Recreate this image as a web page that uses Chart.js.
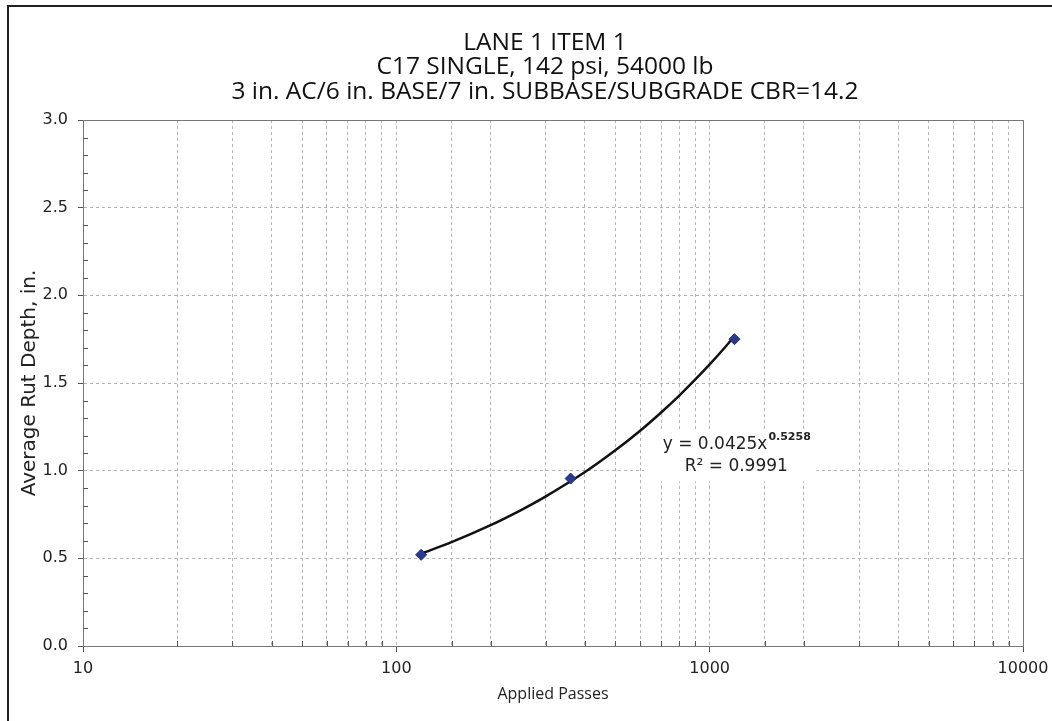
<!DOCTYPE html>
<html>
<head>
<meta charset="utf-8">
<script src="https://cdn.jsdelivr.net/npm/chart.js@4.4.1/dist/chart.umd.min.js"></script>
<style>
  html, body { margin: 0; padding: 0; background: #fff; }
  #frame { position: absolute; left: 7px; top: 5px; width: 1100px; height: 800px;
           border-left: 2px solid #222; border-top: 2px solid #222; }
  #wrap { position: absolute; left: 0; top: 0; width: 1052px; height: 721px; }
</style>
</head>
<body>
<div id="frame"></div>
<div id="wrap"><canvas id="chart" width="1052" height="721"></canvas></div>
<script>
// measured points
const passes = [120, 360, 1200];
const rutDepth = [0.52, 0.955, 1.75];

// power trend line
const trendX = [120, 150, 200, 250, 300, 400, 500, 600, 700, 800, 900, 1000, 1100, 1200];
const trendY = [0.527, 0.592, 0.689, 0.775, 0.853, 0.992, 1.116, 1.228, 1.332, 1.428, 1.520, 1.606, 1.688, 1.768];

const titleLines = [
  'LANE 1 ITEM 1',
  'C17 SINGLE, 142 psi, 54000 lb',
  '3 in. AC/6 in. BASE/7 in. SUBBASE/SUBGRADE CBR=14.2'
];
const majorX = [10, 100, 1000, 10000];
const eqText = 'y = 0.0425x';
const eqExp = '0.5258';
const r2Text = 'R\u00b2 = 0.9991';
const labelAt = { x: 1216, y: 1.15 };

Chart.defaults.font.family = "'DejaVu Sans', Verdana, sans-serif";
Chart.defaults.color = '#222';

function isMajor(v) {
  return majorX.indexOf(Math.round(v)) >= 0;
}

// title (a bit right of the canvas centre, like the original)
const headline = {
  id: 'headline',
  beforeDraw(chart) {
    const ctx = chart.ctx;
    const a = chart.chartArea;
    const cx = (a.left + a.right) / 2 - 8;
    ctx.save();
    ctx.fillStyle = '#111';
    ctx.font = "500 24.5px 'Open Sans', sans-serif";
    ctx.textAlign = 'center';
    ctx.textBaseline = 'middle';
    titleLines.forEach((t, i) => ctx.fillText(t, cx, 43 + i * 24.5));
    ctx.restore();
  }
};

// frame, minor ticks and the trend label
const extras = {
  id: 'extras',
  afterDraw(chart) {
    const ctx = chart.ctx;
    const a = chart.chartArea;
    const xs = chart.scales.x, ys = chart.scales.y;
    ctx.save();
    ctx.setLineDash([]);
    ctx.strokeStyle = '#777';
    ctx.lineWidth = 1;
    ctx.strokeRect(a.left + 0.5, a.top + 0.5, a.right - a.left, a.bottom - a.top);

    ctx.strokeStyle = '#555';
    ctx.beginPath();
    for (let i = 0; i <= 30; i++) {
      if (i % 5 === 0) continue;
      const py = Math.round(ys.getPixelForValue(i / 10)) + 0.5;
      ctx.moveTo(a.left, py);
      ctx.lineTo(a.left + 5, py);
    }
    xs.ticks.forEach(t => {
      if (isMajor(t.value)) return;
      const px = Math.round(xs.getPixelForValue(t.value)) + 0.5;
      ctx.moveTo(px, a.bottom);
      ctx.lineTo(px, a.bottom - 5);
    });
    ctx.stroke();

    // trendline label
    const cx = xs.getPixelForValue(labelAt.x);
    const cy = ys.getPixelForValue(labelAt.y);
    ctx.fillStyle = '#fff';
    ctx.fillRect(cx - 92, cy - 13, 172, 50);
    ctx.fillStyle = '#222';
    ctx.textBaseline = 'middle';
    ctx.font = "17px 'DejaVu Sans', sans-serif";
    const w1 = ctx.measureText(eqText).width;
    ctx.font = "bold 11px 'DejaVu Sans', sans-serif";
    const w2 = ctx.measureText(eqExp).width;
    const x0 = cx - (w1 + w2) / 2;
    ctx.font = "17px 'DejaVu Sans', sans-serif";
    ctx.textAlign = 'left';
    ctx.fillText(eqText, x0, cy);
    ctx.font = "bold 11px 'DejaVu Sans', sans-serif";
    ctx.fillText(eqExp, x0 + w1 + 1, cy - 7);
    ctx.font = "17px 'DejaVu Sans', sans-serif";
    ctx.textAlign = 'center';
    ctx.fillText(r2Text, cx, cy + 22);
    ctx.restore();
  }
};

const ctx = document.getElementById('chart').getContext('2d');
new Chart(ctx, {
  type: 'scatter',
  data: {
    datasets: [
      {
        label: 'trend',
        data: trendX.map((x, i) => ({ x: x, y: trendY[i] })),
        showLine: true,
        borderColor: '#111',
        borderWidth: 2.5,
        pointRadius: 0,
        tension: 0.3,
        order: 2
      },
      {
        label: 'rut',
        data: passes.map((x, i) => ({ x: x, y: rutDepth[i] })),
        pointStyle: 'rectRot',
        pointRadius: 5.5,
        backgroundColor: '#2a3b8f',
        borderColor: '#1c2a70',
        borderWidth: 1,
        order: 1
      }
    ]
  },
  options: {
    responsive: false,
    animation: false,
    events: [],
    layout: { padding: { left: 12, right: 29, top: 120, bottom: 17 } },
    plugins: {
      legend: { display: false },
      tooltip: { enabled: false },
      title: { display: false }
    },
    scales: {
      x: {
        type: 'logarithmic',
        min: 10,
        max: 10000,
        afterFit(s) { s.height = 58; s.paddingRight = 0; s.paddingLeft = 0; },
        border: { display: true, color: '#666', width: 1, dash: [3, 3] },
        grid: {
          color: '#b5b5b5',
          lineWidth: 1,
          drawTicks: true,
          tickLength: 6,
          tickColor: c => (c.tick && isMajor(c.tick.value)) ? '#555' : 'rgba(0,0,0,0)',
          tickBorderDash: []
        },
        ticks: {
          autoSkip: false,
          maxRotation: 0,
          padding: 7,
          color: '#222',
          font: { size: 16 },
          callback: v => isMajor(v) ? String(Math.round(v)) : ''
        },
        title: {
          display: true,
          text: 'Applied Passes',
          color: '#222',
          font: { family: "'Open Sans', sans-serif", size: 16 },
          padding: { top: 0, bottom: 0 }
        }
      },
      y: {
        min: 0,
        max: 3,
        afterFit(s) { s.width = 71; },
        grid: {
          color: '#b5b5b5',
          lineWidth: 1,
          tickLength: 5,
          tickColor: '#555',
          tickBorderDash: []
        },
        border: { display: true, color: '#666', dash: [3, 3] },
        ticks: {
          stepSize: 0.5,
          padding: 10,
          color: '#222',
          font: { size: 16 },
          callback: v => v.toFixed(1)
        },
        title: {
          display: true,
          text: 'Average Rut Depth, in.',
          color: '#222',
          font: { size: 20 },
          padding: { top: 6, bottom: 0 }
        }
      }
    }
  },
  plugins: [headline, extras]
});
</script>
</body>
</html>
